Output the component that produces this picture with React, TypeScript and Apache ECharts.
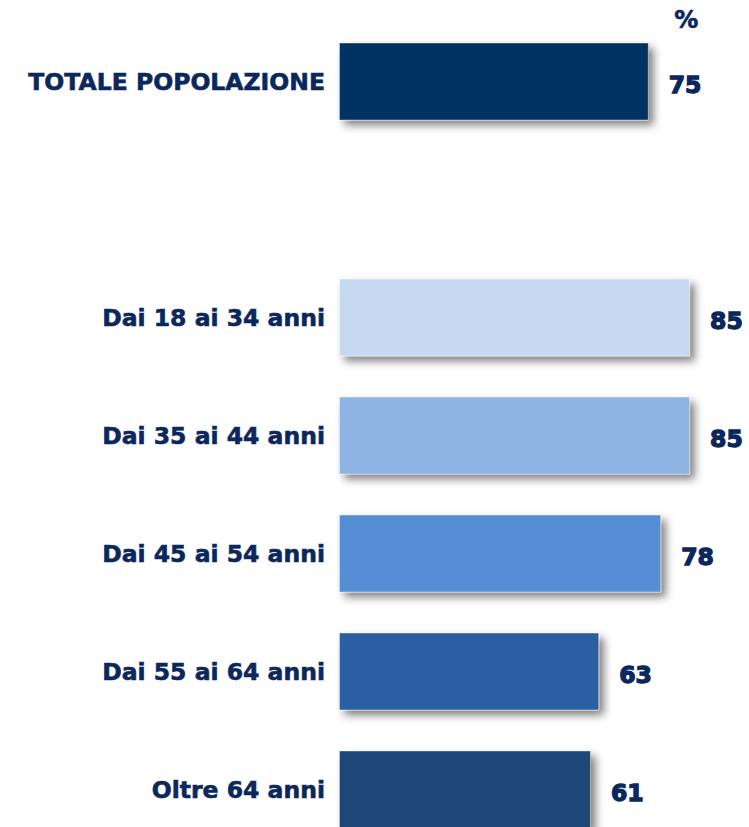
import React, { useEffect, useRef } from "react";
import * as echarts from "echarts";

const categories = [
  "TOTALE POPOLAZIONE",
  "",
  "Dai 18 ai 34 anni",
  "Dai 35 ai 44 anni",
  "Dai 45 ai 54 anni",
  "Dai 55 ai 64 anni",
  "Oltre 64 anni",
];
const values: (number | string)[] = [75, "-", 85, 85, 78, 63, 61];
const barColors = ["#003162", "#ffffff", "#C6D9F1", "#8EB4E3", "#558ED5", "#2961A3", "#1F4677"];
const unitLabel = "%";

const TEXT = "#0B275C";

export default function App() {
  const ref = useRef<HTMLDivElement>(null);
  useEffect(() => {
    if (!ref.current) return;
    const chart = echarts.init(ref.current, undefined, { renderer: "svg" });
    chart.setOption({
      animation: false,
      backgroundColor: "#ffffff",
      grid: { left: 339, width: 413, top: 22.5, height: 826, containLabel: false },
      xAxis: {
        type: "value",
        min: 0,
        max: 100,
        show: false,
      },
      yAxis: {
        type: "category",
        data: categories,
        inverse: true,
        axisLine: { show: false },
        axisTick: { show: false },
        axisLabel: {
          margin: 14,
          color: TEXT,
          fontFamily: "DejaVu Sans",
          fontWeight: "bold",
          fontSize: 23.5,
          textBorderColor: TEXT,
          textBorderWidth: 0.6,
        },
      },
      graphic: [
        {
          type: "text",
          left: 674,
          top: 8,
          style: {
            text: unitLabel,
            fill: TEXT,
            font: "bold 24px 'DejaVu Sans'",
            stroke: TEXT,
            lineWidth: 0.6,
          },
        },
      ],
      series: [
        {
          type: "bar",
          barCategoryGap: "34%",
          data: values.map((v, i) => ({
            value: v,
            itemStyle: { color: barColors[i] },
          })),
          itemStyle: {
            borderColor: "rgba(255,255,255,0.35)",
            borderWidth: 1,
            shadowColor: "rgba(0,0,0,0.5)",
            shadowBlur: 8,
            shadowOffsetX: 5,
            shadowOffsetY: 5,
          },
          label: {
            show: true,
            position: "right",
            distance: 20,
            offset: [0, 3],
            color: TEXT,
            fontFamily: "DejaVu Sans",
            fontWeight: "bold",
            fontSize: 23.5,
            textBorderColor: TEXT,
            textBorderWidth: 1.3,
          },
        },
      ],
    });
    return () => chart.dispose();
  }, []);
  return (
    <div style={{ position: "fixed", left: 0, top: 0, width: 749, height: 827, overflow: "hidden" }}>
      <div ref={ref} style={{ width: 780, height: 870 }} />
    </div>
  );
}
